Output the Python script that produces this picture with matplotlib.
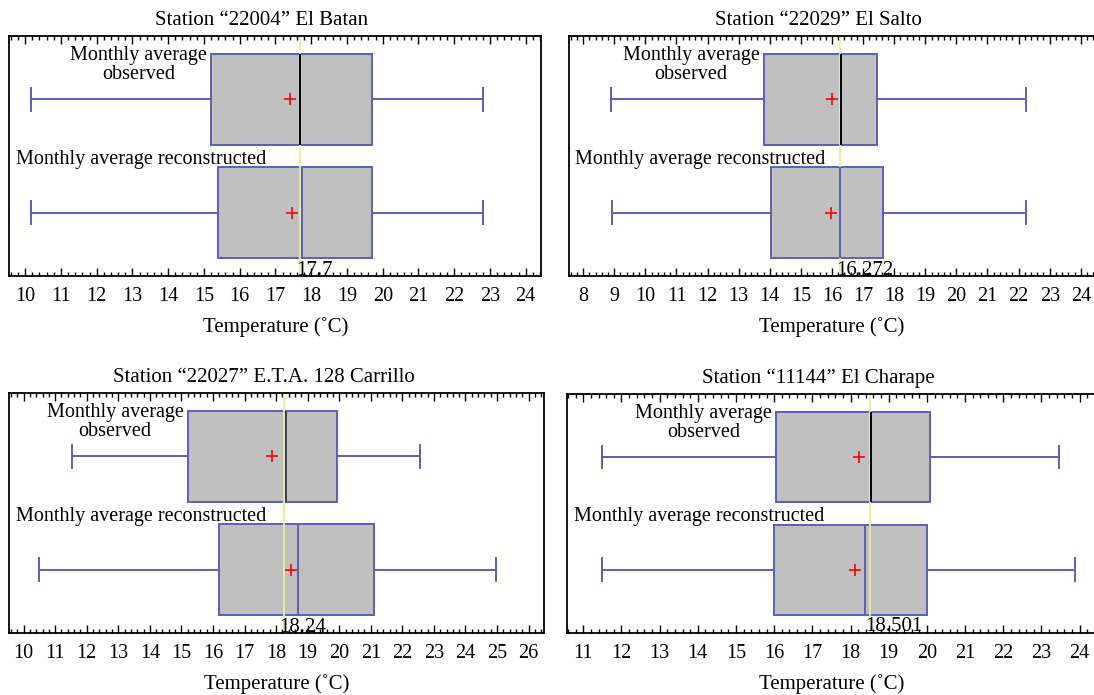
import matplotlib.pyplot as plt
from matplotlib.ticker import MultipleLocator
import matplotlib.transforms as mtransforms

plt.rcParams['font.family'] = ['Liberation Serif', 'DejaVu Serif']

titles = ['Station \u201c22004\u201d El Batan', 'Station \u201c22029\u201d El Salto',
          'Station \u201c22027\u201d E.T.A. 128 Carrillo', 'Station \u201c11144\u201d El Charape']
ref_values = [17.7, 16.272, 18.24, 18.501]
ref_labels = ['17.7', '16.272', '18.24', '18.501']

# observed monthly averages
obs_q1 = [15.2, 13.8, 15.2, 16.05]
obs_med = [17.7, 16.3, 18.3, 18.54]
obs_q3 = [19.7, 17.45, 19.92, 20.08]
obs_mean = [17.4, 16.0, 17.88, 18.21]
obs_lo = [10.15, 8.9, 11.53, 11.5]
obs_hi = [22.8, 22.23, 22.56, 23.45]

# reconstructed monthly averages
rec_q1 = [15.4, 14.05, 16.18, 15.99]
rec_med = [17.75, 16.26, 18.7, 18.37]
rec_q3 = [19.7, 17.64, 21.09, 20.01]
rec_mean = [17.45, 15.98, 18.48, 18.13]
rec_lo = [10.15, 8.94, 10.5, 11.5]
rec_hi = [22.8, 22.23, 24.98, 23.89]

tick_min = [10, 8, 10, 11]
tick_max = [24, 24, 26, 24]
xlims = [(9.56, 24.43), (7.53, 24.47), (9.55, 26.5), (10.58, 24.42)]
obs_median_colors = ['black', 'black', '#3a3a66', 'black']

positions = [[0.0086, 0.6029, 0.486, 0.3453],
             [0.5197, 0.6029, 0.4816, 0.3453],
             [0.0086, 0.0888, 0.489, 0.3462],
             [0.5185, 0.0897, 0.483, 0.3434]]

edge = '#5a60b4'
fig = plt.figure(figsize=(10.94, 6.95), dpi=100)

for i in range(4):
    ax = fig.add_axes(positions[i])
    stats = [
        dict(med=rec_med[i], q1=rec_q1[i], q3=rec_q3[i], whislo=rec_lo[i],
             whishi=rec_hi[i], mean=rec_mean[i], fliers=[]),
        dict(med=obs_med[i], q1=obs_q1[i], q3=obs_q3[i], whislo=obs_lo[i],
             whishi=obs_hi[i], mean=obs_mean[i], fliers=[]),
    ]
    res = ax.bxp(stats, positions=[1, 2], widths=0.8, capwidths=0.2,
                 orientation='horizontal', showmeans=True, patch_artist=True,
                 boxprops=dict(facecolor='#c0c0c0', edgecolor=edge, linewidth=1.4),
                 whiskerprops=dict(color=edge, linewidth=1.4),
                 capprops=dict(color=edge, linewidth=1.4),
                 medianprops=dict(color=edge, linewidth=1.4),
                 meanprops=dict(marker='+', markeredgecolor='red', markersize=9,
                                markeredgewidth=1.2, linestyle='none'))
    res['medians'][1].set_color(obs_median_colors[i])
    for m in res['medians'] + res['means']:
        m.set_zorder(3)

    ax.axvline(ref_values[i], color='#e6efa0', linewidth=1.3, zorder=2.05)

    ax.set_xlim(*xlims[i])
    ax.set_ylim(0.44, 2.56)
    ax.set_yticks([])
    ax.xaxis.set_major_locator(MultipleLocator(1))
    ax.xaxis.set_minor_locator(MultipleLocator(0.2))
    ax.set_xticks(range(tick_min[i], tick_max[i] + 1))
    ax.tick_params(axis='x', which='both', direction='in', top=True, bottom=True,
                   labelsize=14.5, pad=8)
    ax.tick_params(axis='x', which='major', length=6, width=1)
    ax.tick_params(axis='x', which='minor', length=3, width=1)
    for s in ax.spines.values():
        s.set_linewidth(1.3)

    ax.set_title(titles[i], fontsize=15, pad=8, x=0.475)
    ax.set_xlabel('Temperature (\u02daC)', fontsize=15, labelpad=8)

    ax.annotate('Monthly average\nobserved', (obs_q1[i], 2.4), xytext=(-3, 6),
                textcoords='offset points', ha='right', va='top',
                multialignment='center', linespacing=1.05, fontsize=14.5)
    trans = mtransforms.blended_transform_factory(ax.transAxes, ax.transData)
    ax.text(0.012, 1.43, 'Monthly average reconstructed', transform=trans,
            ha='left', va='baseline', fontsize=14.5)
    ax.annotate(ref_labels[i], (ref_values[i], 0.44), xytext=(-3, 1),
                textcoords='offset points', ha='left', va='baseline', fontsize=15)

fig.savefig('out.png', dpi=100)
